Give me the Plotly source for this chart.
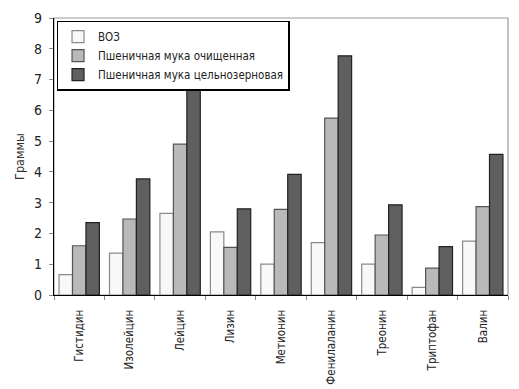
import plotly.graph_objects as go

categories = ["Гистидин", "Изолейцин", "Лейцин", "Лизин", "Метионин",
              "Фенилаланин", "Треонин", "Триптофан", "Валин"]
who = [0.66, 1.36, 2.65, 2.05, 1.0, 1.7, 1.0, 0.25, 1.75]
refined = [1.6, 2.47, 4.9, 1.55, 2.78, 5.75, 1.95, 0.87, 2.87]
whole = [2.35, 3.77, 6.82, 2.8, 3.92, 7.77, 2.93, 1.57, 4.57]
series_names = ["ВОЗ", "Пшеничная мука очищенная", "Пшеничная мука цельнозерновая"]
y_ticks = list(range(0, 10))

font = "DejaVu Sans Condensed, Liberation Sans Narrow, sans-serif"

fig = go.Figure()
fills = ["#f8f8f8", "#b9b9b9", "#5f5f5f"]
lines = ["#8a8a8a", "#555555", "#222222"]
for name, vals, fc, lc in zip(series_names, [who, refined, whole], fills, lines):
    fig.add_trace(go.Bar(x=categories, y=vals, name=name,
                         marker=dict(color=fc, line=dict(color=lc, width=1.2))))

fig.update_layout(
    width=519, height=389,
    margin=dict(l=54, r=11, t=18, b=94, autoexpand=False),
    paper_bgcolor="white", plot_bgcolor="white",
    barmode="group", bargap=0.2, bargroupgap=0,
    font=dict(family=font, size=12, color="#222222"),
    showlegend=True,
    legend=dict(x=0.006, y=0.99, xanchor="left", yanchor="top",
                bgcolor="white", bordercolor="black", borderwidth=1.3,
                font=dict(family=font, size=11.5, color="#222222"),
                itemwidth=30, tracegroupgap=0),
    xaxis=dict(showline=True, linecolor="black", linewidth=1.2, mirror=False,
               ticks="outside", ticklen=4, tickcolor="#888888",
               tickson="boundaries", tickangle=-90, ticklabelstandoff=9,
               tickfont=dict(family=font, size=11.5, color="#222222"),
               showgrid=False),
    yaxis=dict(range=[0, 9], tickvals=y_ticks, showline=True, linecolor="black",
               linewidth=1.2, ticks="outside", ticklen=4, tickcolor="#888888",
               showgrid=False, zeroline=False, ticklabelstandoff=4,
               tickfont=dict(family=font, size=14, color="#222222"),
               title=dict(text="Граммы", font=dict(family=font, size=12.5, color="#333333"), standoff=6)),
)
fig.add_shape(type="rect", xref="paper", yref="paper", x0=0, y0=0, x1=1, y1=1,
              line=dict(color="#999999", width=1.2), layer="below")
fig.write_html("out.html", config={"displayModeBar": False},
               post_script="document.body.style.margin='0px';")
